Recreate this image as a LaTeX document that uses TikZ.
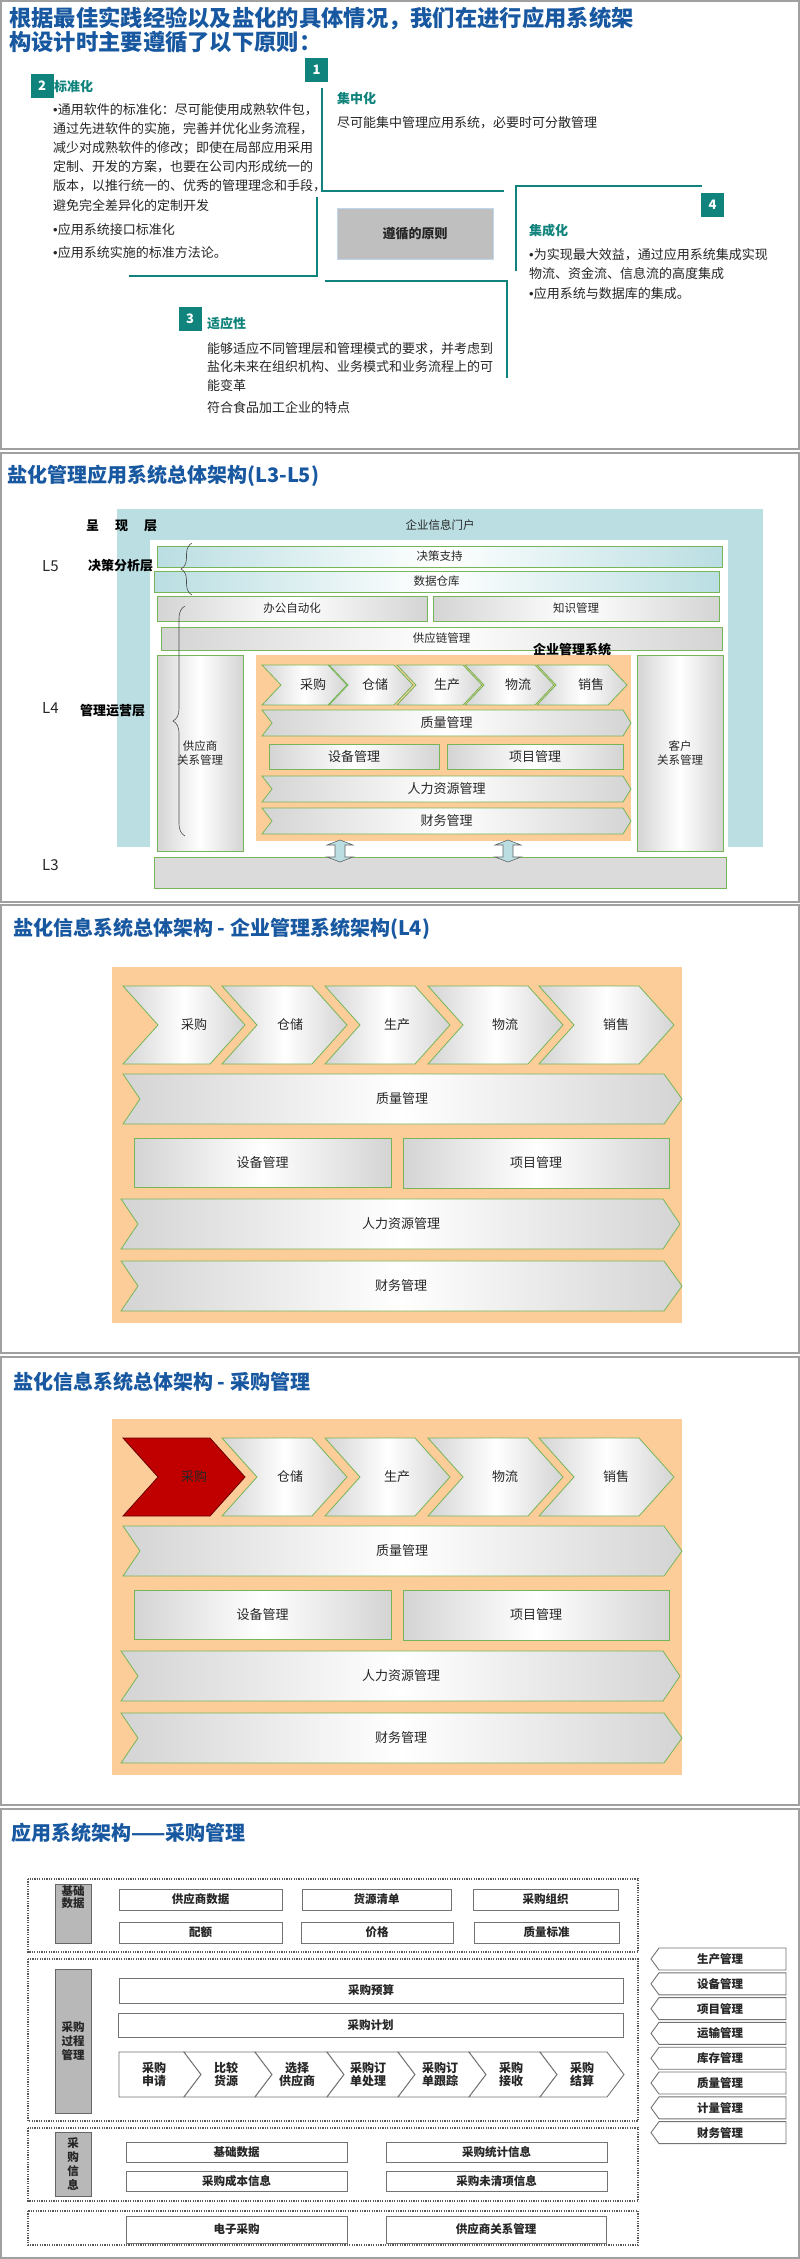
\documentclass[tikz,border=0pt]{standalone}
\usepackage{fontspec}
\setmainfont{Noto Sans CJK SC}
\newfontfamily\bulletfont{Liberation Sans}
\newcommand\bul{{\bulletfont •}}
\usetikzlibrary{arrows.meta, positioning, calc, decorations.pathreplacing}
\definecolor{saltblue}{RGB}{24, 88, 160}
\definecolor{saltteal}{RGB}{16, 132, 124}
\definecolor{saltframe}{RGB}{160, 160, 160}
\definecolor{saltsky}{RGB}{186, 222, 226}
\definecolor{saltpale}{RGB}{190, 214, 238}
\definecolor{saltpeach}{RGB}{252, 204, 153}
\definecolor{saltgreen}{RGB}{118, 182, 88}
\definecolor{saltgrey}{RGB}{212, 212, 212}
\definecolor{saltred}{RGB}{192, 0, 0}
\definecolor{saltink}{RGB}{38, 38, 38}

\begin{document}
\begin{tikzpicture}[
    x=1pt, y=-1pt,
    panel/.style={draw=saltframe, line width=2pt},
    heading/.style={anchor=west, inner sep=0pt, text=saltblue, font=\fontsize{20}{20}\selectfont\bfseries},
    numbox/.style={fill=saltteal, text=white, minimum width=23pt, minimum height=24pt, inner sep=0pt, font=\fontsize{13}{13}\selectfont\bfseries},
    topic/.style={anchor=west, inner sep=0pt, text=saltteal, font=\fontsize{13}{13}\selectfont\bfseries},
    para/.style={anchor=north west, inner sep=0pt, align=left, text=saltink, font=\fontsize{13}{19.2}\selectfont},
    line1/.style={anchor=west, inner sep=0pt, text=saltink, font=\fontsize{13}{13}\selectfont},
    tealline/.style={draw=saltteal, line width=1.2pt},
    principle/.style={fill=black!25, draw=saltpale, line width=1pt, minimum width=156pt, minimum height=51pt, inner sep=0pt, text=saltink, font=\fontsize{13}{13}\selectfont\bfseries},
    layer/.style={anchor=west, inner sep=0pt, text=black, font=\fontsize{13}{13}\selectfont\bfseries},
    level/.style={anchor=west, inner sep=0pt, text=saltink, font=\fontsize{15}{15}\selectfont},
    small/.style={inner sep=0pt, text=saltink, font=\fontsize{11.5}{13.5}\selectfont},
    bar/.style={draw=saltgreen, line width=0.8pt, left color=saltgrey, right color=saltgrey, middle color=white, inner sep=0pt, align=center, text=saltink, font=\fontsize{11.5}{13.5}\selectfont},
    skybar/.style={bar, left color=saltsky, right color=saltsky, middle color=white},
    chev/.style={draw=saltgreen, line width=0.8pt, left color=saltgrey, right color=saltgrey, middle color=white},
    hotchev/.style={draw=saltred!55!black, line width=0.8pt, fill=saltred},
    mod/.style={inner sep=0pt, text=saltink, font=\fontsize{13}{13}\selectfont},
    dblarrow/.style={fill=saltsky, draw=black!60, line width=0.6pt},
    braceline/.style={draw=black!70, line width=0.6pt, decorate},
    dotbox/.style={draw=black!65, line width=1.2pt, dash pattern=on 1.2pt off 1.2pt},
    catbox/.style={fill=black!28, draw=black!60, line width=1pt, inner sep=0pt, align=center, text=saltink, font=\fontsize{11.5}{14}\selectfont\bfseries},
    itembox/.style={draw=black!55, fill=white, line width=0.9pt, inner sep=0pt, text=saltink, font=\fontsize{11.5}{13}\selectfont\bfseries},
    procchev/.style={draw=black!55, fill=white, line width=0.9pt},
    itemtext/.style={inner sep=0pt, align=center, text=saltink, font=\fontsize{11.5}{13.3}\selectfont\bfseries}
  ]
  \fill[white] (0,0) rectangle (800,2259);
  \useasboundingbox (0,0) rectangle (800,2259);

  % slide 1 -- principles
  \draw[panel] (1,1) rectangle (799,449);
  \node[heading, anchor=north west, align=left, font=\fontsize{22.3}{21}\selectfont\bfseries] (title1) at (9,7)
    {根据最佳实践经验以及盐化的具体情况，我们在进行应用系统架\\构设计时主要遵循了以下原则：};

  \draw[tealline] (322,88) -- (322,191) -- (504,191);
  \draw[tealline] (317,197) -- (317,276) -- (129,276);
  \draw[tealline] (325,281) -- (507,281) -- (507,378);
  \draw[tealline] (702,186) -- (516,186) -- (516,271);

  \node[numbox] (n1) at (316.5,70) {1};
  \node[numbox] (n2) at (42,86) {2};
  \node[numbox] (n3) at (190,319) {3};
  \node[numbox] (n4) at (712.5,205) {4};
  \node[principle] (core) at (415,233.5) {遵循的原则};

  \node[topic] (t1) at (337,99) {集中化};
  \node[line1] (d1) at (337,123) {尽可能集中管理应用系统，必要时可分散管理};

  \node[topic] (t2) at (54,87) {标准化};
  \node[para] (d2a) at (53,103) {\bul 通用软件的标准化：尽可能使用成熟软件包，\\通过先进软件的实施，完善并优化业务流程，\\减少对成熟软件的修改；即使在局部应用采用\\定制、开发的方案，也要在公司内形成统一的\\版本，以推行统一的、优秀的管理理念和手段，\\避免完全差异化的定制开发};
  \node[line1] (d2b) at (53,230) {\bul 应用系统接口标准化};
  \node[line1] (d2c) at (53,253) {\bul 应用系统实施的标准方法论。};

  \node[topic] (t3) at (207,324) {适应性};
  \node[para, font=\fontsize{13}{18.5}\selectfont] (d3a) at (207,342) {能够适应不同管理层和管理模式的要求，并考虑到\\盐化未来在组织机构、业务模式和业务流程上的可\\能变革};
  \node[line1] (d3b) at (207,408) {符合食品加工企业的特点};

  \node[topic] (t4) at (529,231) {集成化};
  \node[para, font=\fontsize{13}{19}\selectfont] (d4a) at (529,248) {\bul 为实现最大效益，通过应用系统集成实现\\物流、资金流、信息流的高度集成};
  \node[line1] (d4b) at (529,294) {\bul 应用系统与数据库的集成。};

  % slide 2 -- overall architecture L3-L5
  \draw[panel] (1,453) rectangle (799,902);
  \node[heading] (title2) at (7,476) {盐化管理应用系统总体架构(L3-L5)};
  \fill[saltsky] (117,509) rectangle (763,847);
  \fill[white] (150,540) rectangle (728,847);
  \node[small] (portal) at (440,525) {企业信息门户};

  \node[layer] (present) at (86,526) {呈\hspace{16pt}现\hspace{16pt}层};
  \node[level] (l5) at (42,566) {L5};
  \node[layer] (l5name) at (88,566) {决策分析层};
  \node[level] (l4) at (42,708) {L4};
  \node[layer] (l4name) at (80,711) {管理运营层};
  \node[level] (l3) at (42,865) {L3};

  \node[skybar, minimum width=565pt, minimum height=21pt] (dss) at (439.5,556.5) {决策支持};
  \node[skybar, minimum width=565pt, minimum height=21pt] (dw) at (436.5,581.5) {数据仓库};
  \node[bar, minimum width=270pt, minimum height=25pt] (oa) at (292,608.5) {办公自动化};
  \node[bar, minimum width=286pt, minimum height=25pt] (km) at (576,608.5) {知识管理};
  \node[bar, minimum width=561pt, minimum height=23pt] (scm) at (441.5,638.5) {供应链管理};
  \node[bar, minimum width=86pt, minimum height=196pt] (srm) at (200,753) {供应商\\关系管理};
  \node[bar, minimum width=86pt, minimum height=196pt] (crm) at (680,753) {客户\\关系管理};
  \node[fill=saltpeach, minimum width=375pt, minimum height=186pt, inner sep=0pt] (erp) at (443.5,748) {};

  \foreach \lx/\tx/\cx/\name [count=\i] in {262/347/313/采购, 329/413/375/仓储, 397/482/447/生产, 465/554/518/物流, 537/627/591/销售} {
    \path[chev] (\lx,665) -- ({\tx-19},665) -- (\tx,685) -- ({\tx-19},705) -- (\lx,705) -- ({\lx+19},685) -- cycle;
    \node[mod] (s\i) at (\cx,685) {\name};
  }
  \path[chev] (262,710) -- (623,710) -- (631,723) -- (623,736) -- (262,736) -- (272,723) -- cycle;
  \node[mod] (qm) at (446.5,723) {质量管理};
  \node[bar, minimum width=170pt, minimum height=25pt, font=\fontsize{13}{13}\selectfont] (eq) at (354,756.5) {设备管理};
  \node[bar, minimum width=176pt, minimum height=25pt, font=\fontsize{13}{13}\selectfont] (pj) at (535,756.5) {项目管理};
  \path[chev] (262,776) -- (623,776) -- (631,789) -- (623,802) -- (262,802) -- (272,789) -- cycle;
  \node[mod] (hr) at (446.5,789) {人力资源管理};
  \path[chev] (262,808) -- (623,808) -- (631,821) -- (623,834) -- (262,834) -- (272,821) -- cycle;
  \node[mod] (fi) at (446.5,821) {财务管理};
  \node[layer, anchor=center] (erpname) at (572,650) {企业管理系统};

  \node[draw=saltgreen, line width=0.8pt, fill=black!14, minimum width=572pt, minimum height=31pt] (l3bar) at (440,872.5) {};
  \foreach \ax in {340,508}
    \path[dblarrow] (\ax,840) -- ++(13,5) -- ++(-8,0) -- ++(0,12) -- ++(8,0) -- ++(-13,5) -- ++(-13,-5) -- ++(8,0) -- ++(0,-12) -- ++(-8,0) -- cycle;

  \draw[braceline, decoration={brace, amplitude=11pt}] (192,595) -- (192,543);
  \draw[braceline, decoration={brace, amplitude=12pt}] (185,836) -- (185,606);

  % slides 3 and 4 -- enterprise management system (L4)
  \draw[panel] (1,905) rectangle (799,1353);
  \node[heading] (title3) at (13,929) {盐化信息系统总体架构 - 企业管理系统架构(L4)};
  \draw[panel] (1,1357) rectangle (799,1805);
  \node[heading] (title4) at (13,1382) {盐化信息系统总体架构 - 采购管理};

  \foreach \oy/\tag/\hot in {0/a/0, 452/b/1} {
    \begin{scope}[shift={(0,\oy)}]
      \fill[saltpeach] (112,967) rectangle (682,1323);
      \foreach \lx/\tx/\cx/\name [count=\i] in {123/245/194/采购, 222/347/290/仓储, 325/450/397/生产, 428/563/505/物流, 539/674/616/销售} {
        \def\chevstyle{chev}
        \ifnum\i=1 \ifnum\hot=1 \def\chevstyle{hotchev}\fi\fi
        \path[\chevstyle] (\lx,986) -- ({\tx-35},986) -- (\tx,1025) -- ({\tx-35},1064) -- (\lx,1064) -- ({\lx+35},1025) -- cycle;
        \node[mod] (\tag s\i) at (\cx,1025) {\name};
      }
      \path[chev] (123,1074) -- (664,1074) -- (682,1099) -- (664,1124) -- (123,1124) -- (140,1099) -- cycle;
      \node[mod] (\tag qm) at (402,1099) {质量管理};
      \node[bar, minimum width=257pt, minimum height=49pt, font=\fontsize{13}{13}\selectfont] (\tag eq) at (262.5,1162.5) {设备管理};
      \node[bar, minimum width=266pt, minimum height=50pt, font=\fontsize{13}{13}\selectfont] (\tag pj) at (536,1163) {项目管理};
      \path[chev] (121,1199) -- (663,1199) -- (680,1224) -- (663,1249) -- (121,1249) -- (138,1224) -- cycle;
      \node[mod] (\tag hr) at (401,1224) {人力资源管理};
      \path[chev] (121,1261) -- (664,1261) -- (682,1286) -- (664,1311) -- (121,1311) -- (138,1286) -- cycle;
      \node[mod] (\tag fi) at (401,1286) {财务管理};
    \end{scope}
  }

  % slide 5 -- purchasing application architecture
  \draw[panel] (1,1809) rectangle (799,2258);
  \node[heading] (title5) at (11,1833) {应用系统架构——采购管理};

  \draw[dotbox] (28,1879) rectangle (638,1952);
  \draw[dotbox] (28,1959) rectangle (638,2121);
  \draw[dotbox] (28,2128) rectangle (638,2201);
  \draw[dotbox] (28,2211) rectangle (638,2245);

  \node[catbox, minimum width=36pt, minimum height=59pt] (cat1) at (73,1913.5) {};
  \node[itemtext, font=\fontsize{11.5}{12.5}\selectfont\bfseries, below=1.5pt of cat1.north] (cat1txt) {基础\\数据};
  \node[catbox, minimum width=36pt, minimum height=144pt] (cat2) at (73,2041) {采购\\过程\\管理};
  \node[catbox, minimum width=36pt, minimum height=64pt] (cat3) at (73,2164) {采\\购\\信\\息};

  \node[itembox, minimum width=163pt, minimum height=21pt] (sd) at (200.5,1899.5) {供应商数据};
  \node[itembox, minimum width=149pt, minimum height=21pt] (src) at (376.5,1899.5) {货源清单};
  \node[itembox, minimum width=145pt, minimum height=21pt] (org) at (545.5,1899.5) {采购组织};
  \node[itembox, minimum width=163pt, minimum height=21pt] (quo) at (200.5,1932.5) {配额};
  \node[itembox, minimum width=152pt, minimum height=21pt] (prc) at (377,1932.5) {价格};
  \node[itembox, minimum width=145pt, minimum height=21pt] (qs) at (546.5,1932.5) {质量标准};

  \node[itembox, minimum width=504pt, minimum height=25pt] (bud) at (371,1990.5) {采购预算};
  \node[itembox, minimum width=505pt, minimum height=24pt] (pln) at (370.5,2025) {采购计划};
  \foreach \lx/\rx/\cx/\name [count=\i] in {119/184/154/采购\\申请, 184/255/226/比较\\货源, 255/327/297/选择\\供应商, 327/398/368/采购订\\单处理, 398/469/440/采购订\\单跟踪, 469/540/511/采购\\接收, 540/607/582/采购\\结算} {
    \ifnum\i=1
      \path[procchev] (\lx,2052) -- (\rx,2052) -- ({\rx+17},2074.5) -- (\rx,2097) -- (\lx,2097) -- cycle;
    \else
      \path[procchev] (\lx,2052) -- (\rx,2052) -- ({\rx+17},2074.5) -- (\rx,2097) -- (\lx,2097) -- ({\lx+17},2074.5) -- cycle;
    \fi
    \node[itemtext, font=\fontsize{12}{13.3}\selectfont\bfseries] (p\i) at (\cx,2074.5) {\name};
  }

  \node[itembox, minimum width=221pt, minimum height=20pt] (bd) at (236.5,2152) {基础数据};
  \node[itembox, minimum width=221pt, minimum height=20pt] (st) at (496.5,2152) {采购统计信息};
  \node[itembox, minimum width=221pt, minimum height=20pt] (co) at (236.5,2181) {采购成本信息};
  \node[itembox, minimum width=221pt, minimum height=20pt] (op) at (496.5,2181) {采购未清项信息};
  \node[itembox, minimum width=221pt, minimum height=27pt] (ep) at (236.5,2229.5) {电子采购};
  \node[itembox, minimum width=220pt, minimum height=27pt] (sr) at (496,2229.5) {供应商关系管理};

  \foreach \name [count=\i] in {生产管理, 设备管理, 项目管理, 运输管理, 库存管理, 质量管理, 计量管理, 财务管理} {
    \pgfmathsetmacro\ty{1948+(\i-1)*24.8}
    \path[procchev] (786,\ty) -- (659,\ty) -- (651,{\ty+11}) -- (659,{\ty+22}) -- (786,{\ty+22}) -- cycle;
    \node[itemtext] (m\i) at (720,{\ty+11}) {\name};
  }
\end{tikzpicture}
\end{document}
